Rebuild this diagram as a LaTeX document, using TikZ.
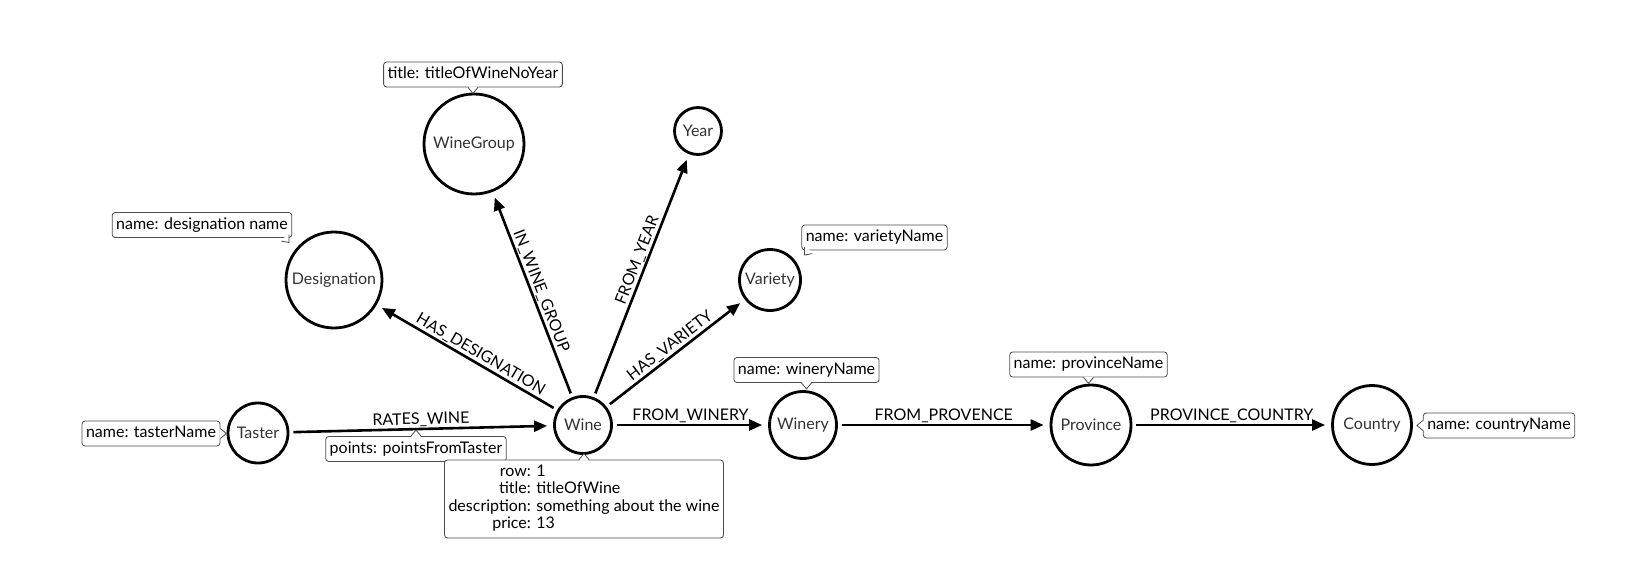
\documentclass[tikz,border=0pt]{standalone}
\usepackage{fontspec}
\setmainfont{Lato}
\usetikzlibrary{arrows.meta,calc}
\begin{document}
\begin{tikzpicture}[x=1pt,y=-1pt,
  ent/.style={circle,draw=black,line width=2.8pt,inner sep=0pt,text=black!80,font=\fontsize{16}{19}\selectfont},
  rel/.style={line width=2.6pt,-{Triangle[length=13pt,width=11pt]},shorten <=4pt,shorten >=6pt},
  rlab/.style={font=\fontsize{16}{19}\selectfont,sloped,above,inner sep=1pt},
  prop/.style={draw=black!70,line width=0.8pt,rounded corners=3pt,fill=white,inner xsep=4pt,inner ysep=4.5pt,text height=12pt,text depth=4pt,font=\fontsize{16}{19}\selectfont},
  propw/.style={draw=black!70,line width=0.8pt,rounded corners=3pt,fill=white,inner xsep=4pt,inner ysep=4pt,font=\fontsize{16}{17.5}\selectfont},
  ptr/.pic={\fill[white] (-5,-0.9) -- (0,6) -- (5,-0.9) -- cycle; \draw[black!70,line width=0.8pt] (-5,0) -- (0,6) -- (5,0);}
]
\useasboundingbox (0,0) rectangle (1636,583);
\fill[white] (0,0) rectangle (1636,583);

% entities
\node[ent,minimum size=96pt]  (des)  at (334,280) {Designation};
\node[ent,minimum size=100pt] (wg)   at (474,144) {WineGroup};
\node[ent,minimum size=47pt]  (year) at (698,131) {Year};
\node[ent,minimum size=61pt]  (var)  at (770,280) {Variety};
\node[ent,minimum size=60pt]  (tas)  at (258,433) {Taster};
\node[ent,minimum size=57pt]  (wine) at (583,425) {Wine};
\node[ent,minimum size=67pt]  (wnry) at (803,425) {Winery};
\node[ent,minimum size=80pt]  (prov) at (1091,425) {Province};
\node[ent,minimum size=79pt]  (ctry) at (1372,425) {Country};

% relationships
\draw[rel] (tas) -- node[rlab]{RATES\_WINE} (wine);
\draw[rel] (wine) -- node[rlab]{FROM\_WINERY} (wnry);
\draw[rel] (wnry) -- node[rlab]{FROM\_PROVENCE} (prov);
\draw[rel] (prov) -- node[rlab]{PROVINCE\_COUNTRY} (ctry);
\draw[rel] (wine) -- node[rlab,pos=0.45]{HAS\_DESIGNATION} (des);
\draw[rel] (wine) -- node[rlab]{IN\_WINE\_GROUP} (wg);
\draw[rel] (wine) -- node[rlab,pos=0.55]{FROM\_YEAR} (year);
\draw[rel] (wine) -- node[rlab]{HAS\_VARIETY} (var);

% property boxes
\node[prop] (pwg)  at (473,74.5) {title: titleOfWineNoYear};
\pic at (pwg.south) {ptr};
\node[prop] (pdes) at (202,225) {name: designation name};
\pic[rotate=40] at ($(pdes.south east)+(-7,0)$) {ptr};
\node[prop] (ptas) at (151,433.5) {name: tasterName};
\pic[rotate=90] at (ptas.east) {ptr};
\node[prop] (ppts) at (416,449) {points: pointsFromTaster};
\pic[rotate=180] at (ppts.north) {ptr};
\node[prop] (pvar) at (874.5,237.5) {name: varietyName};
\pic[rotate=-40] at ($(pvar.south west)+(7,0)$) {ptr};
\node[prop] (pwnry) at (806.5,370) {name: wineryName};
\pic at (pwnry.south) {ptr};
\node[prop] (pprov) at (1088.5,364.5) {name: provinceName};
\pic at (pprov.south) {ptr};
\node[prop] (pctry) at (1499,425.5) {name: countryName};
\pic[rotate=-90] at (pctry.west) {ptr};
\node[propw] (pwine) at (584,499) {\begin{tabular}{@{}r@{ }l@{}}row: & 1\\ title: & titleOfWine\\ description: & something about the wine\\ price: & 13\end{tabular}};
\pic[rotate=180] at (pwine.north) {ptr};
\end{tikzpicture}
\end{document}
